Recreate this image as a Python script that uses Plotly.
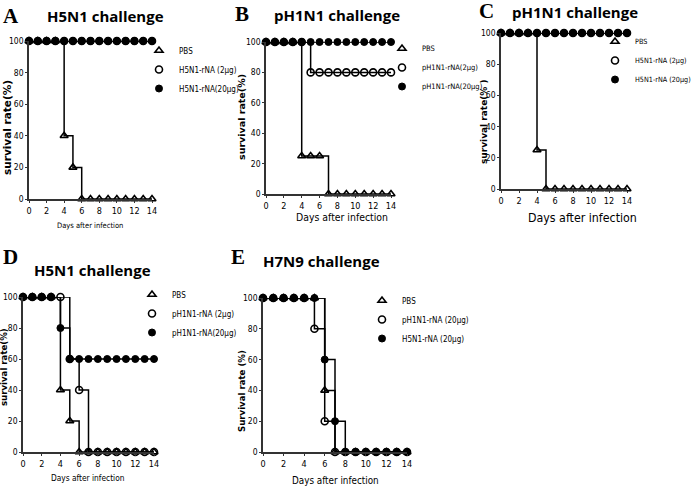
import plotly.graph_objects as go

days = list(range(15))

# panel A - H5N1 challenge
a_pbs = [100, 100, 100, 100, 40, 20, 0, 0, 0, 0, 0, 0, 0, 0, 0]
a_low = [100] * 15
a_high = [100] * 15

# panel B - pH1N1 challenge
b_pbs = [100, 100, 100, 100, 25, 25, 25, 0, 0, 0, 0, 0, 0, 0, 0]
b_low = [100, 100, 100, 100, 100, 80, 80, 80, 80, 80, 80, 80, 80, 80, 80]
b_high = [100] * 15

# panel C - pH1N1 challenge
c_pbs = [100, 100, 100, 100, 25, 0, 0, 0, 0, 0, 0, 0, 0, 0, 0]
c_low = [100] * 15
c_high = [100] * 15

# panel D - H5N1 challenge
d_pbs = [100, 100, 100, 100, 40, 20, 0, 0, 0, 0, 0, 0, 0, 0, 0]
d_low = [100, 100, 100, 100, 100, 60, 40, 0, 0, 0, 0, 0, 0, 0, 0]
d_high = [100, 100, 100, 100, 80, 60, 60, 60, 60, 60, 60, 60, 60, 60, 60]

# panel E - H7N9 challenge
e_pbs = [100, 100, 100, 100, 100, 100, 40, 0, 0, 0, 0, 0, 0, 0, 0]
e_ph1 = [100, 100, 100, 100, 100, 80, 20, 0, 0, 0, 0, 0, 0, 0, 0]
e_h5 = [100, 100, 100, 100, 100, 100, 60, 20, 0, 0, 0, 0, 0, 0, 0]

x_ticks = [0, 2, 4, 6, 8, 10, 12, 14]
y_ticks = [0, 20, 40, 60, 80, 100]

W, H = 696, 489
NARROW = "DejaVu Sans Condensed, Liberation Sans Narrow, sans-serif"


def px(x0, x1):
    return [x0 / W, x1 / W]


def py(top, bottom):
    return [1 - bottom / H, 1 - top / H]


# positions are in pixels from the top-left corner
panels = [
    dict(letter="A", title="H5N1 challenge", ylab=("survival rate(%)", 7, 128, 10.5),
         xd=px(29, 152), yd=py(41, 199), leg=(159, 52, 8), letpos=(11, 16), tpos=(105, 16),
         xlab=(90, 225, 7.5),
         series=[("PBS", a_pbs), ("H5N1-rNA (2µg)", a_low), ("H5N1-rNA(20µg)", a_high)]),
    dict(letter="B", title="pH1N1 challenge", ylab=("survival rate(%)", 242, 117, 9.5),
         xd=px(266, 391), yd=py(42, 194), leg=(402, 50, 7.5), letpos=(242, 14), tpos=(337, 15),
         xlab=(342, 217, 10.4),
         series=[("PBS", b_pbs), ("pH1N1-rNA(2µg)", b_low), ("pH1N1-rNA(20µg)", b_high)]),
    dict(letter="C", title="pH1N1 challenge", ylab=("survival rate(% )", 484, 122, 9),
         xd=px(501, 627), yd=py(33, 189), leg=(None, 43, 7.2), letpos=(486, 11), tpos=(575, 12),
         xlab=(582, 218, 12.3),
         series=[("PBS", c_pbs), ("H5N1-rNA (2µg)", c_low), ("H5N1-rNA (20µg)", c_high)]),
    dict(letter="D", title="H5N1 challenge", ylab=("survival rate(%)", 4, 367, 8.6),
         xd=px(23, 154), yd=py(297, 452), leg=(152, 296, 8), letpos=(10, 257), tpos=(93, 270),
         xlab=(88, 478, 8.3),
         series=[("PBS", d_pbs), ("pH1N1-rNA (2µg)", d_low), ("pH1N1-rNA(20µg)", d_high)]),
    dict(letter="E", title="H7N9 challenge", ylab=("Survival rate (%)", 242, 391, 8.6),
         xd=px(263, 407), yd=py(298, 452), leg=(382, 302, 8), letpos=(238, 257), tpos=(321, 261),
         xlab=(335, 480, 9.8),
         series=[("PBS", e_pbs), ("pH1N1-rNA (20µg)", e_ph1), ("H5N1-rNA (20µg)", e_h5)]),
]

markers = [
    dict(symbol="triangle-up-open", size=7, color="black", line=dict(width=1.6, color="black")),
    dict(symbol="circle-open", size=7, color="black", line=dict(width=1.6, color="black")),
    dict(symbol="circle", size=7, color="black", line=dict(width=1, color="black")),
]

fig = go.Figure()
layout = {}
annotations = []


def note(text, x, y, size, family, bold=False, angle=0):
    annotations.append(dict(
        text=text, x=x / W, y=1 - y / H, textangle=angle,
        xref="paper", yref="paper", showarrow=False, xanchor="center", yanchor="middle",
        font=dict(family=family, size=size, color="black", weight="bold" if bold else "normal"),
    ))


for i, p in enumerate(panels):
    n = "" if i == 0 else str(i + 1)
    legname = "legend" + n
    for j, (name, vals) in enumerate(p["series"]):
        fig.add_trace(go.Scatter(
            x=days, y=vals, name=name, mode="lines+markers",
            line=dict(shape="hv", color="black", width=1.5),
            marker=markers[j], cliponaxis=False, showlegend=False,
            xaxis="x" + n, yaxis="y" + n,
        ))
    # marker-only legend keys, as in the original figure
    for j, (name, vals) in enumerate(p["series"]):
        fig.add_trace(go.Scatter(
            x=[None], y=[None], name=name, mode="markers", marker=markers[j],
            xaxis="x" + n, yaxis="y" + n, legend=legname,
        ))
    layout["xaxis" + n] = dict(
        domain=p["xd"], anchor="y" + n, range=[0, 14], tickvals=x_ticks, automargin=False,
        showline=True, linecolor="#333", linewidth=1.5, ticks="outside", ticklen=2,
        tickcolor="#333", showgrid=False, zeroline=False,
        tickfont=dict(family=NARROW, size=9, color="black"),
    )
    layout["yaxis" + n] = dict(
        domain=p["yd"], anchor="x" + n, range=[0, 100], tickvals=y_ticks, automargin=False,
        showline=True, linecolor="#333", linewidth=1.5, ticks="outside", ticklen=2,
        tickcolor="#333", showgrid=False, zeroline=False,
        tickfont=dict(family=NARROW, size=8.5, color="black"),
    )
    lx, ly, ls = p["leg"]
    leg = dict(
        y=1 - (ly - 16) / H, yanchor="top",
        bgcolor="rgba(0,0,0,0)", itemwidth=30,
        font=dict(family=NARROW, size=ls, color="black"),
    )
    if lx is None:
        leg.update(x=1, xanchor="right")
    else:
        leg.update(x=(lx - 20) / W, xanchor="left")
    layout[legname] = leg

    note(p["letter"], *p["letpos"], 21, "Liberation Serif", bold=True)
    note(p["title"], *p["tpos"], 15, "Open Sans", bold=True)
    xx, xy, xs = p["xlab"]
    note("Days after infection", xx, xy, xs, NARROW)
    yt, yx, yy, ys = p["ylab"]
    note(yt, yx, yy, ys, "DejaVu Sans", bold=True, angle=-90)

fig.update_layout(
    width=W, height=H, margin=dict(l=0, r=0, t=0, b=0),
    plot_bgcolor="white", paper_bgcolor="white",
    annotations=annotations, **layout,
)

# the page body has a default 8px margin; drop it so the figure fills the window
fig.write_html("out.html", config={"displayModeBar": False},
               post_script="document.body.style.margin='0px';")
